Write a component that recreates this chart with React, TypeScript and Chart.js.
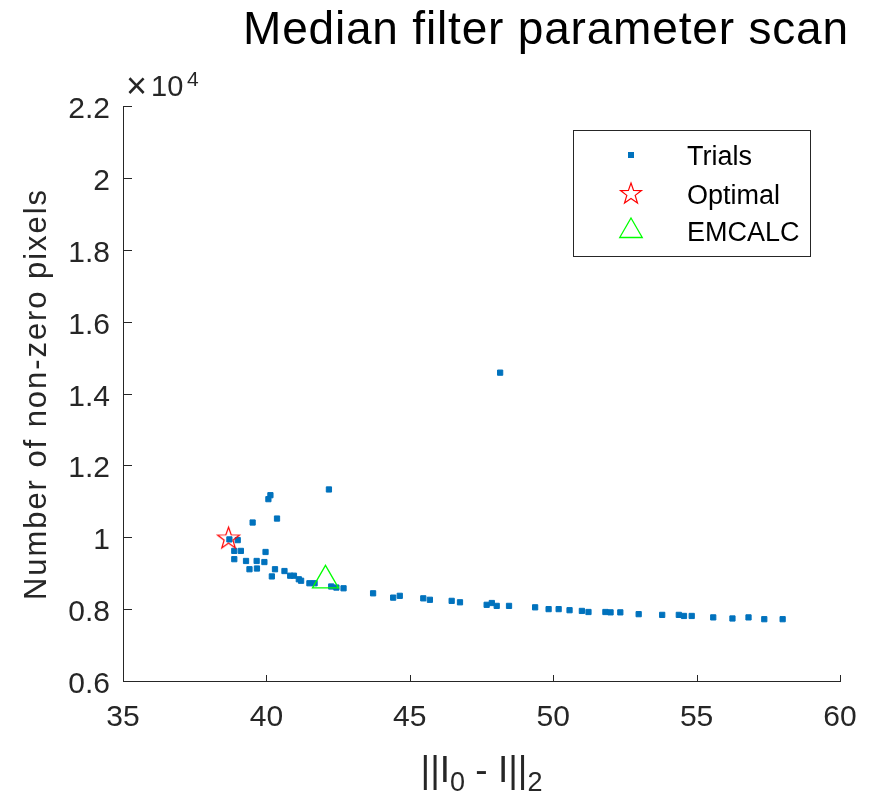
import React, { useEffect, useRef } from 'react';
import { Chart, registerables } from 'chart.js';

Chart.register(...registerables);

// ---------- data ----------
const trialsX = [
  42.18, 40.14, 40.07, 39.52, 40.37, 38.71, 39.0, 38.88, 39.11, 39.97,
  38.88, 39.29, 39.66, 39.93, 39.41, 39.67, 40.3, 40.19, 40.63, 40.83,
  40.96, 41.13, 41.21, 41.5, 41.68, 42.26, 42.44, 42.69, 43.72, 44.42,
  44.65, 45.47, 45.7, 46.46, 46.75, 47.68, 47.86, 48.03, 48.46, 49.37,
  49.84, 50.19, 50.57, 51.0, 51.23, 51.82, 52.0, 52.34, 52.98, 53.8,
  54.38, 54.56, 54.83, 55.58, 56.25, 56.81, 57.36, 58.0, 48.15,
];
const trialsY = [
  11330, 11170, 11060, 10410, 10520, 9940, 9920, 9620, 9620, 9590,
  9390, 9340, 9340, 9310, 9110, 9130, 9110, 8910, 9060, 8930,
  8930, 8830, 8790, 8720, 8720, 8630, 8600, 8580, 8440, 8320,
  8370, 8300, 8260, 8230, 8190, 8120, 8170, 8090, 8090, 8050,
  8000, 8000, 7970, 7950, 7920, 7920, 7910, 7910, 7860, 7840,
  7840, 7810, 7810, 7770, 7740, 7770, 7720, 7720, 14580,
];
const optimalX = [38.68];
const optimalY = [9960];
const emcalcX = [42.06];
const emcalcY = [8800];

const xTicks = [35, 40, 45, 50, 55, 60];
const yTicks = [6000, 8000, 10000, 12000, 14000, 16000, 18000, 20000, 22000];

const seriesLabels = ['Trials', 'Optimal', 'EMCALC'];
const titleText = 'Median filter parameter scan';
const yTitle = 'Number of non-zero pixels';

// ---------- styles ----------
const FONT = "'Liberation Sans', Arial, Helvetica, sans-serif";
const AX = '#262626';
const BLUE = '#0072BD';
const RED = '#FF0000';
const GREEN = '#00FF00';

function makeStar(outer: number, lw: number): HTMLCanvasElement {
  const size = Math.ceil(outer * 2 + 4);
  const c = document.createElement('canvas');
  c.width = size;
  c.height = size;
  const g = c.getContext('2d')!;
  drawStarPath(g, size / 2, size / 2, outer);
  g.strokeStyle = RED;
  g.lineWidth = lw;
  g.lineJoin = 'miter';
  g.stroke();
  return c;
}

function drawStarPath(g: CanvasRenderingContext2D, cx: number, cy: number, outer: number) {
  const inner = outer * 0.4;
  g.beginPath();
  for (let i = 0; i < 10; i++) {
    const r = i % 2 === 0 ? outer : inner;
    const a = -Math.PI / 2 + (i * Math.PI) / 5;
    const x = cx + r * Math.cos(a);
    const y = cy + r * Math.sin(a);
    if (i === 0) g.moveTo(x, y);
    else g.lineTo(x, y);
  }
  g.closePath();
}

function fmtY(v: number): string {
  return String(+(v / 10000).toFixed(1));
}

function fillSpaced(ctx: CanvasRenderingContext2D, text: string, x: number, y: number, target: number) {
  const anyCtx = ctx as any;
  anyCtx.letterSpacing = '0px';
  const w = ctx.measureText(text).width;
  const ls = Math.max(0, (target - w) / Math.max(1, text.length - 1));
  anyCtx.letterSpacing = ls + 'px';
  ctx.fillText(text, x, y);
  anyCtx.letterSpacing = '0px';
}

const decorPlugin = {
  id: 'decor',
  afterDraw(chart: any) {
    const ctx: CanvasRenderingContext2D = chart.ctx;
    const { left, right, top, bottom } = chart.chartArea;
    const xs = chart.scales.x;
    const ys = chart.scales.y;
    ctx.save();

    // inward ticks
    ctx.strokeStyle = AX;
    ctx.lineWidth = 1;
    ctx.beginPath();
    xs.ticks.forEach((t: any) => {
      const px = Math.round(xs.getPixelForValue(t.value)) + 0.5;
      ctx.moveTo(px, bottom);
      ctx.lineTo(px, bottom - 6);
    });
    ys.ticks.forEach((t: any) => {
      const py = Math.round(ys.getPixelForValue(t.value)) + 0.5;
      ctx.moveTo(left, py);
      ctx.lineTo(left + 9, py);
    });
    ctx.stroke();

    // tick labels
    ctx.fillStyle = AX;
    ctx.font = `30px ${FONT}`;
    ctx.textAlign = 'center';
    ctx.textBaseline = 'alphabetic';
    xs.ticks.forEach((t: any) => {
      ctx.fillText(String(t.value), xs.getPixelForValue(t.value), bottom + 45);
    });
    ctx.textAlign = 'right';
    ys.ticks.forEach((t: any) => {
      ctx.fillText(fmtY(t.value), left - 13, ys.getPixelForValue(t.value) + 12);
    });

    // exponent  x10^4
    ctx.textAlign = 'left';
    ctx.font = `36px ${FONT}`;
    ctx.fillText('\u00D7', left + 3, top - 8);
    ctx.font = `29px ${FONT}`;
    ctx.fillText('10', left + 28, top - 10);
    ctx.font = `21px ${FONT}`;
    ctx.fillText('4', left + 64, top - 20);

    // title
    ctx.fillStyle = '#000000';
    ctx.font = `46px ${FONT}`;
    ctx.textAlign = 'left';
    fillSpaced(ctx, titleText, 243, 44, 605);

    // y axis title
    ctx.fillStyle = AX;
    ctx.save();
    ctx.translate(46, 395);
    ctx.rotate(-Math.PI / 2);
    ctx.font = `31px ${FONT}`;
    ctx.textAlign = 'left';
    (ctx as any).letterSpacing = '0px';
    const yw = ctx.measureText(yTitle).width;
    const target = 410;
    const ls = Math.max(0, (target - yw) / (yTitle.length - 1));
    (ctx as any).letterSpacing = ls + 'px';
    ctx.fillText(yTitle, -target / 2, 0);
    (ctx as any).letterSpacing = '0px';
    ctx.restore();

    // x axis title with subscripts: ||I_0 - I||_2
    const parts: [string, boolean][] = [['||I', false], ['0', true], [' - I||', false], ['2', true]];
    const mainF = `37px ${FONT}`;
    const subF = `27px ${FONT}`;
    let total = 0;
    const widths = parts.map(([s, sub]) => {
      ctx.font = sub ? subF : mainF;
      const w = ctx.measureText(s).width;
      total += w;
      return w;
    });
    let cx = (left + right) / 2 - total / 2;
    ctx.textAlign = 'left';
    parts.forEach(([s, sub], i) => {
      ctx.font = sub ? subF : mainF;
      ctx.fillText(s, cx, sub ? 791 : 782);
      cx += widths[i];
    });

    // legend
    const bx = 573.5, by = 130.5, bw = 237, bh = 126;
    ctx.fillStyle = '#ffffff';
    ctx.fillRect(bx, by, bw, bh);
    ctx.strokeStyle = AX;
    ctx.lineWidth = 1;
    ctx.strokeRect(bx, by, bw, bh);
    const rows = [155, 194, 231];
    const iconX = 631;
    chart.data.datasets.forEach((ds: any, i: number) => {
      const ry = rows[i];
      if (i === 0) {
        ctx.fillStyle = BLUE;
        ctx.fillRect(iconX - 3, ry - 3, 6, 6);
      } else if (i === 1) {
        drawStarPath(ctx, iconX, ry, 11);
        ctx.strokeStyle = RED;
        ctx.lineWidth = 1.2;
        ctx.stroke();
      } else {
        const r = 13;
        ctx.beginPath();
        ctx.moveTo(iconX, ry - r);
        ctx.lineTo(iconX + r * Math.sin((2 * Math.PI) / 3), ry - r * Math.cos((2 * Math.PI) / 3));
        ctx.lineTo(iconX + r * Math.sin((4 * Math.PI) / 3), ry - r * Math.cos((4 * Math.PI) / 3));
        ctx.closePath();
        ctx.strokeStyle = GREEN;
        ctx.lineWidth = 1.3;
        ctx.stroke();
      }
      ctx.fillStyle = '#000000';
      ctx.font = `27px ${FONT}`;
      ctx.textAlign = 'left';
      ctx.fillText(ds.label, 687, ry + 10);
    });

    ctx.restore();
  },
};

export default function App() {
  const ref = useRef<HTMLCanvasElement | null>(null);

  useEffect(() => {
    if (!ref.current) return;
    const star = makeStar(11.5, 1.2);
    const chart = new Chart(ref.current, {
      type: 'scatter',
      data: {
        datasets: [
          {
            label: seriesLabels[0],
            data: trialsX.map((x, i) => ({ x, y: trialsY[i] })),
            pointStyle: 'rect',
            pointRadius: 3.7,
            pointBorderWidth: 1,
            backgroundColor: BLUE,
            borderColor: BLUE,
            order: 3,
          },
          {
            label: seriesLabels[1],
            data: optimalX.map((x, i) => ({ x, y: optimalY[i] })),
            pointStyle: star as any,
            pointRadius: 11,
            backgroundColor: 'rgba(0,0,0,0)',
            borderColor: RED,
            order: 2,
          },
          {
            label: seriesLabels[2],
            data: emcalcX.map((x, i) => ({ x, y: emcalcY[i] })),
            pointStyle: 'triangle',
            pointRadius: 15,
            pointBorderWidth: 1.3,
            backgroundColor: 'rgba(0,0,0,0)',
            borderColor: GREEN,
            order: 1,
          },
        ],
      },
      options: {
        animation: false,
        responsive: false,
        devicePixelRatio: 1,
        layout: { padding: { top: 106, right: 46, bottom: 0, left: 0 } },
        plugins: {
          legend: { display: false },
          tooltip: { enabled: false },
          title: { display: false },
        },
        scales: {
          x: {
            type: 'linear',
            min: 35,
            max: 60,
            afterBuildTicks: (s: any) => {
              s.ticks = xTicks.map((v) => ({ value: v }));
            },
            afterFit: (s: any) => {
              s.height = 112;
            },
            grid: { display: false },
            border: { display: true, color: AX, width: 1 },
            ticks: { display: false },
          },
          y: {
            type: 'linear',
            min: 6000,
            max: 22000,
            afterBuildTicks: (s: any) => {
              s.ticks = yTicks.map((v) => ({ value: v }));
            },
            afterFit: (s: any) => {
              s.width = 123;
            },
            grid: { display: false },
            border: { display: true, color: AX, width: 1 },
            ticks: { display: false },
          },
        },
      },
      plugins: [decorPlugin],
    });
    return () => chart.destroy();
  }, []);

  return (
    <div style={{ position: 'fixed', left: 0, top: 0, width: 886, height: 793, background: '#ffffff' }}>
      <canvas ref={ref} width={886} height={793} style={{ display: 'block', width: 886, height: 793 }} />
    </div>
  );
}
